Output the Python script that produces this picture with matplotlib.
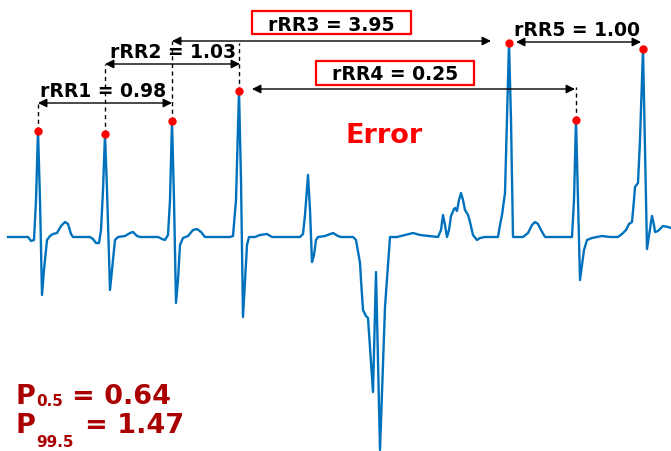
import matplotlib
matplotlib.use("Agg")
import matplotlib.pyplot as plt
from matplotlib.patches import Rectangle

# ---------------------------------------------------------------
# ECG trace (sample index, amplitude in mV)
# ---------------------------------------------------------------
ecg_t = [8, 28, 31, 34, 36, 38, 40, 42, 44, 47, 50, 53, 57, 61, 65, 68, 71, 73,
         90, 93, 96, 99, 101, 103, 105, 107, 110, 112, 115, 118, 125, 130, 133,
         137, 140, 158, 162, 165, 168, 170, 172, 174, 176, 178, 180, 183, 188,
         193, 197, 201, 205, 230, 233, 236, 239, 241, 243, 245, 247, 249, 255,
         260, 267, 272, 300, 303, 305, 308, 310, 312, 314, 316, 318, 325, 333,
         338, 341, 353, 356, 360, 361, 363, 366, 368, 373, 376, 380, 385, 390,
         397, 405, 413, 420, 438, 441, 443, 445, 447, 449, 451, 454, 455, 457,
         459, 461, 463, 465, 468, 470, 473, 477, 480, 485, 498, 500, 502, 505,
         507, 509, 511, 513, 523, 528, 532, 535, 538, 541, 545, 572, 574, 576,
         578, 580, 582, 584, 587, 592, 597, 602, 610, 618, 622, 626, 629, 632,
         634, 635, 638, 640, 643, 645, 647, 649, 652, 654, 655, 658, 663, 668,
         671]
ecg_mv = [0.00, 0.00, -0.04, -0.03, 0.37, 1.06, 0.37, -0.58, -0.33, -0.03,
          0.01, 0.03, 0.04, 0.11, 0.15, 0.13, 0.03, 0.00,
          0.00, -0.02, -0.06, -0.06, 0.07, 0.47, 1.03, 0.47, -0.53, -0.33,
          -0.03, 0.00, 0.01, 0.04, 0.05, 0.01, 0.00, 0.00, -0.02, -0.03, 0.02,
          0.37, 1.16, 0.37, -0.66, -0.43, -0.08, -0.01, 0.01, 0.07, 0.08, 0.05,
          0.00, 0.00, 0.01, 0.37, 1.46, 0.57, -0.80, -0.43, -0.08, 0.00, 0.00,
          0.02, 0.03, 0.00, 0.00, 0.03, 0.22, 0.62, 0.27, -0.25, -0.18, -0.03,
          0.00, 0.01, 0.04, 0.01, 0.00, 0.00, -0.03, -0.26, -0.43, -0.73,
          -0.79, -0.81, -1.55, -0.35, -2.13, -0.70, 0.00,
          0.00, 0.02, 0.04, 0.02, 0.00, 0.07, 0.22, 0.12, 0.00, 0.07, 0.21,
          0.28, 0.29, 0.26, 0.37, 0.44, 0.37, 0.27, 0.22, 0.15, 0.02, -0.03,
          -0.01, 0.00, 0.00, 0.12, 0.22, 0.44, 1.17, 1.94, 1.17, 0.00, 0.00,
          0.04, 0.12, 0.15, 0.13, 0.07, 0.00, 0.00, 0.37, 1.17, 0.37, -0.43,
          -0.28, -0.13, -0.03, -0.01, 0.00, 0.01, 0.00, 0.00, 0.03, 0.07, 0.13,
          0.15, 0.37, 0.50, 0.54, 0.97, 1.88, 0.87, -0.12, 0.01, 0.21, 0.12,
          0.05, 0.06, 0.11, 0.10, 0.09]

# detected R peaks
r_peak_t = [38, 105, 172, 239, 509, 576, 643]
r_peak_mv = [1.06, 1.03, 1.16, 1.46, 1.94, 1.17, 1.88]

# relative RR intervals
rrr_labels = ["rRR1 = 0.98", "rRR2 = 1.03", "rRR3 = 3.95", "rRR4 = 0.25", "rRR5 = 1.00"]
p_low_label, p_low_value = "0.5", "0.64"
p_high_label, p_high_value = "99.5", "1.47"

LINE_BLUE = "#0072BD"
DARK_RED = "#AA0000"
FS = 13.5

fig = plt.figure(figsize=(6.71, 4.51), dpi=100)
ax = fig.add_axes([0, 0, 1, 1])
ax.set_xlim(0, 671)
ax.set_ylim(-2.14, 2.37)
ax.axis("off")

ax.plot(ecg_t, ecg_mv, color=LINE_BLUE, lw=1.7, zorder=2)
ax.plot(r_peak_t, r_peak_mv, "o", color="red", ms=5, zorder=3)


def vline(i, top):
    ax.plot([r_peak_t[i], r_peak_t[i]], [r_peak_mv[i], top], "k--", lw=1, dashes=(3, 2.5))


def arrow(x1, x2, y):
    ax.annotate("", xy=(x2, y), xytext=(x1, y),
                arrowprops=dict(arrowstyle="<|-|>", color="k", lw=1,
                                shrinkA=0, shrinkB=0, mutation_scale=13))


# dashed guides up from the peaks
vline(0, 1.34)
vline(1, 1.73)
vline(2, 1.96)
vline(3, 1.94)
vline(5, 1.50)

# interval arrows
arrow(r_peak_t[0], r_peak_t[2], 1.34)
arrow(r_peak_t[1], r_peak_t[3] + 1, 1.73)
arrow(r_peak_t[2], r_peak_t[4] - 18, 1.96)
arrow(r_peak_t[3] + 13, r_peak_t[5] - 1, 1.48)
arrow(r_peak_t[4] + 7, r_peak_t[6] - 2, 1.95)

# labels
txt = dict(fontsize=FS, fontweight="bold", ha="center", va="baseline")
ax.text(103, 1.40, rrr_labels[0], **txt)
ax.text(173, 1.79, rrr_labels[1], **txt)
ax.text(331.5, 2.06, rrr_labels[2], **txt)
ax.text(395, 1.57, rrr_labels[3], **txt)
ax.text(577.5, 2.01, rrr_labels[4], **txt)

# red boxes around the suspicious intervals
ax.add_patch(Rectangle((252, 2.03), 159, 0.23, fill=False, ec="red", lw=1.6, zorder=4))
ax.add_patch(Rectangle((316, 1.52), 158, 0.24, fill=False, ec="red", lw=1.6, zorder=4))

ax.text(384.5, 0.94, "Error", fontsize=19.5, fontweight="bold", color="red",
        ha="center", va="baseline")

# percentile annotations
big = dict(fontsize=19.5, fontweight="bold", color=DARK_RED, va="baseline")
small = dict(fontsize=11, fontweight="bold", color=DARK_RED, va="baseline")
ax.text(15, -1.67, "P", **big)
ax.text(36, -1.69, p_low_label, **small)
ax.text(72, -1.67, "= " + p_low_value, **big)
ax.text(15, -1.96, "P", **big)
ax.text(36, -2.10, p_high_label, **small)
ax.text(85, -1.96, "= " + p_high_value, **big)

fig.savefig("out.png", dpi=100)
